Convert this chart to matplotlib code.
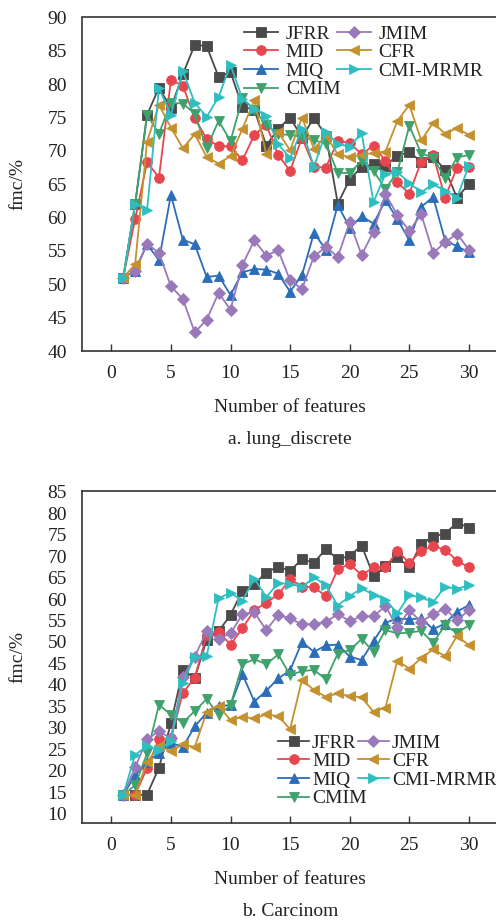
import matplotlib
matplotlib.use("Agg")
import matplotlib.pyplot as plt
import numpy as np

plt.rcParams['font.family'] = ['Liberation Serif', 'DejaVu Serif']
plt.rcParams['mathtext.fontset'] = 'stix'

n_features = list(range(1, 31))

methods = ["JFRR", "MID", "MIQ", "CMIM", "JMIM", "CFR", "CMI-MRMR"]

# panel a: lung_discrete
a_JFRR = [51, 62, 75.4, 79.5, 76.4, 81.5, 85.9, 85.7, 81.1, 81.8, 76.6, 76.2, 70.8, 73.3, 75.0,
          72.0, 75.0, 72.3, 62.1, 65.7, 67.6, 68.0, 67.8, 69.3, 69.8, 68.4, 69.1, 67.2, 63.0, 65.0]
a_MID = [51, 59.8, 68.3, 66.0, 80.6, 79.8, 74.9, 71.8, 70.7, 70.7, 68.6, 72.4, 73.9, 69.4, 67.0,
         72.0, 67.6, 67.5, 71.5, 71.2, 69.5, 70.8, 68.5, 65.3, 63.6, 68.4, 69.4, 63.0, 67.5, 67.6]
a_MIQ = [51, 52, 56, 53.6, 63.4, 56.7, 56.0, 51.1, 51.3, 48.4, 51.8, 52.3, 52.2, 51.6, 48.9,
         51.4, 57.7, 55.2, 61.9, 58.5, 60.2, 59.1, 62.6, 59.8, 56.6, 61.6, 63.1, 56.6, 55.7, 54.8]
a_CMIM = [51, 62, 75.4, 72.6, 77.2, 77.1, 75.6, 70.4, 74.5, 71.5, 77.9, 76.1, 73.9, 72.5, 72.4,
          72.1, 71.6, 71.1, 66.7, 66.7, 68.5, 67.0, 64.3, 66.8, 73.8, 69.6, 69.0, 65.9, 69.0, 69.4]
a_JMIM = [51, 52, 56.1, 54.7, 49.7, 47.8, 42.8, 44.7, 48.7, 46.2, 52.9, 56.6, 54.3, 55.1, 50.6,
          49.3, 54.2, 55.6, 54.1, 59.3, 54.4, 57.9, 63.5, 60.4, 58.0, 60.5, 54.7, 56.3, 57.6, 55.2]
a_CFR = [51, 53, 71.4, 76.9, 73.5, 70.4, 72.5, 69.1, 68.1, 69.2, 73.3, 77.6, 69.5, 72.8, 70.1,
         75.0, 70.3, 72.3, 69.5, 69.1, 69.4, 69.7, 69.9, 74.5, 76.9, 71.6, 74.2, 72.6, 73.4, 72.4]
a_CMI = [51, 62.1, 61.1, 79.4, 75.4, 82.0, 77.2, 75.1, 78.1, 82.9, 77.8, 76.3, 75.3, 71.0, 68.9,
         73.3, 67.6, 72.8, 71.1, 70.6, 72.7, 62.3, 66.6, 66.8, 65.2, 63.8, 65.0, 64.0, 63.0, 67.8]

# panel b: Carcinom
b_JFRR = [14.3, 14.3, 14.4, 20.7, 31.0, 43.4, 41.6, 50.5, 52.5, 56.3, 62.0, 63.5, 66.2, 67.6, 66.6,
          69.3, 68.5, 71.7, 69.3, 70.1, 72.5, 65.4, 67.7, 69.8, 67.4, 72.9, 74.6, 75.3, 77.8, 76.7]
b_MID = [14.3, 14.4, 20.6, 27.4, 27.5, 38.1, 41.7, 51.6, 52.4, 49.4, 53.2, 57.4, 59.2, 61.1, 64.6,
         62.9, 62.8, 60.7, 67.0, 68.2, 65.6, 67.4, 67.4, 71.2, 68.5, 71.2, 72.4, 71.5, 69.0, 67.4]
b_MIQ = [14.3, 18.9, 22.0, 24.1, 26.5, 25.5, 30.3, 33.5, 35.0, 35.3, 42.5, 36.1, 38.6, 41.5, 43.4,
         50.0, 47.7, 49.2, 49.4, 46.6, 45.8, 50.2, 54.5, 55.5, 55.3, 55.5, 53.0, 54.3, 57.1, 58.6]
b_CMIM = [14.3, 16.6, 24.0, 35.4, 33.0, 31.2, 33.9, 36.7, 33.0, 35.2, 44.8, 46.0, 44.8, 47.1, 42.3,
          43.2, 43.5, 41.3, 47.3, 48.1, 50.7, 47.7, 52.8, 52.0, 52.2, 52.6, 49.8, 53.9, 52.1, 53.9]
b_JMIM = [14.3, 20.8, 27.3, 29.2, 27.5, 41.9, 46.6, 52.5, 50.8, 52.0, 56.5, 56.9, 52.8, 56.3, 55.5,
          54.1, 54.2, 54.7, 56.5, 54.9, 56.0, 56.0, 58.4, 53.4, 57.4, 54.7, 56.5, 57.8, 55.1, 57.4]
b_CFR = [14.3, 14.3, 22.0, 25.7, 24.5, 26.1, 25.5, 33.7, 35.0, 31.8, 32.5, 32.2, 33.1, 32.7, 29.7,
         41.2, 38.8, 37.2, 38.0, 37.4, 37.1, 33.7, 34.7, 45.6, 43.8, 46.2, 48.3, 46.7, 51.4, 49.3]
b_CMI = [14.3, 23.7, 25.7, 24.8, 27.0, 40.5, 46.6, 46.7, 60.2, 61.5, 59.6, 64.8, 60.5, 63.7, 63.6,
         62.8, 65.1, 63.2, 58.5, 60.7, 62.5, 61.0, 59.9, 56.7, 60.9, 60.4, 59.3, 62.9, 62.4, 63.3]

a_ticks_y = list(range(40, 91, 5))
b_ticks_y = list(range(10, 86, 5))
x_ticks = list(range(0, 31, 5))

colors = ["#4a4a4a", "#e8464e", "#2b6db8", "#3fa26c", "#9a79ba", "#c4912f", "#2fbec0"]
markers = ["s", "o", "^", "v", "D", "<", ">"]
msizes = [6.5, 7, 7.5, 7.5, 6.5, 7.5, 7.5]

W, H = 496, 922
fig = plt.figure(figsize=(W / 100, H / 100), dpi=100)

def px_axes(left, top, right, bottom):
    return fig.add_axes([left / W, 1 - bottom / H, (right - left) / W, (bottom - top) / H])

ax_a = px_axes(81.5, 17.5, 498.7, 351)
ax_b = px_axes(81.5, 490.7, 498.7, 823.3)

def draw(ax, series, ylim, yticks):
    for s, c, m, ms, name in zip(series, colors, markers, msizes, methods):
        ax.plot(n_features, s, color=c, marker=m, markersize=ms, linewidth=1.3,
                markeredgewidth=0.6, markeredgecolor=c, label=name, clip_on=False)
    ax.set_xlim(-2.5, 32.5)
    ax.set_ylim(*ylim)
    ax.set_xticks(x_ticks)
    ax.set_yticks(yticks)
    ax.tick_params(axis='x', direction='in', length=5, width=1.0, pad=10,
                   labelsize=14, colors='#333333', labelcolor='#222222')
    ax.tick_params(axis='y', length=0, pad=10.5, labelsize=14, labelcolor='#222222')
    for sp in ['left', 'bottom', 'top']:
        ax.spines[sp].set_color('#333333')
        ax.spines[sp].set_linewidth(1.2)
    ax.spines['right'].set_visible(False)
    ax.set_ylabel("fmc/%", fontsize=14, color='#222222')
    ax.yaxis.set_label_coords(-0.133, 0.5)

draw(ax_a, [a_JFRR, a_MID, a_MIQ, a_CMIM, a_JMIM, a_CFR, a_CMI], (40, 90), a_ticks_y)
draw(ax_b, [b_JFRR, b_MID, b_MIQ, b_CMIM, b_JMIM, b_CFR, b_CMI], (7.7, 85.3), b_ticks_y)

leg_a = ax_a.legend(loc='upper left', bbox_to_anchor=(244 / W, 1 - 25 / H),
                    bbox_transform=fig.transFigure, ncol=2, frameon=False, fontsize=14,
                    borderpad=0, borderaxespad=0, handlelength=1.75, handletextpad=0.4,
                    columnspacing=-0.2, labelspacing=0.05)
leg_b = ax_b.legend(loc='upper left', bbox_to_anchor=(278 / W, 1 - 734 / H),
                    bbox_transform=fig.transFigure, ncol=2, frameon=False, fontsize=14,
                    borderpad=0, borderaxespad=0, handlelength=1.6, handletextpad=0.15,
                    columnspacing=-0.45, labelspacing=0.05)
for leg in (leg_a, leg_b):
    for t in leg.get_texts():
        t.set_color('#222222')

fig.text(290 / W, 1 - 407.7 / H, "Number of features", ha='center', va='center', fontsize=14, color='#222222')
fig.text(290 / W, 1 - 440 / H, "a. lung_discrete", ha='center', va='center', fontsize=14, color='#222222')
fig.text(290 / W, 1 - 879 / H, "Number of features", ha='center', va='center', fontsize=14, color='#222222')
fig.text(290 / W, 1 - 911.7 / H, "b. Carcinom", ha='center', va='center', fontsize=14, color='#222222')

fig.savefig("out.png", dpi=100)
